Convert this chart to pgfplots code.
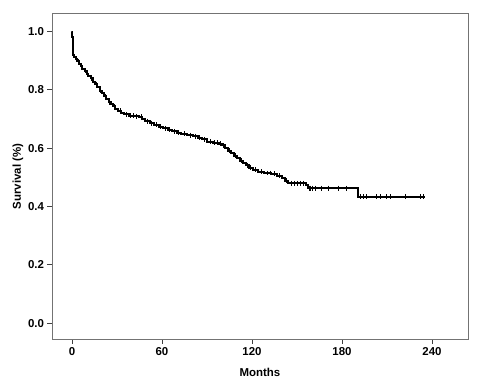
\documentclass[border=0pt]{standalone}
\usepackage{pgfplots}
\pgfplotsset{compat=1.18}
\usepackage{fontspec}
\setmainfont{Liberation Sans}
\begin{document}
\begin{tikzpicture}
\path[use as bounding box] (-52bp,-51bp) rectangle (428bp,339bp);
\begin{axis}[
  at={(0,0)}, anchor=south west,
  scale only axis, width=416bp, height=325bp,
  xmin=-13.3, xmax=264, ymin=-0.054, ymax=1.06,
  xtick={0,60,120,180,240}, ytick={0,0.2,0.4,0.6,0.8,1.0},
  axis line style={draw=black!55, line width=1pt},
  tick style={draw=black!75, line width=0.8pt},
  tick align=outside, tick pos=left,
  major tick length=4.5bp,
  /pgf/number format/assume math mode=true,
  tick label style={font=\bfseries\fontsize{11.5}{13}\selectfont},
  yticklabel style={/pgf/number format/.cd, fixed, fixed zerofill, precision=1},
  xlabel={Months},
  label style={font=\bfseries\fontsize{11.5}{13}\selectfont},
  x label style={at={(axis description cs:0.5,-0.1015)}, anchor=center},
  clip=false,
]
\addplot[const plot, black, line width=2pt] coordinates {
(0,1.0) (0.2,0.98) (0.4,0.96) (0.6,0.945) (0.8,0.93) (1.0,0.92) (1.5,0.912)
(2.5,0.905) (3.5,0.898) (5,0.89) (6,0.882) (7,0.872) (8.5,0.865) (10,0.855)
(11,0.848) (12.5,0.84) (14,0.828) (15.5,0.82) (17,0.81) (18.5,0.797) (20,0.788)
(21.5,0.778) (23,0.767) (24.5,0.758) (26,0.75) (27.5,0.743) (29,0.736) (31,0.728)
(33,0.722) (35,0.716) (38,0.712) (42,0.71) (45,0.708) (47,0.700) (49,0.693)
(52,0.686) (55,0.68) (58,0.674) (61,0.668) (64,0.663) (67,0.658) (70,0.653)
(73,0.649) (77,0.645) (81,0.641) (84,0.636) (87,0.63) (90,0.622) (94,0.618)
(98,0.616) (100,0.61) (102,0.602) (104,0.592) (106,0.583) (108,0.574) (110,0.566)
(112,0.557) (114,0.549) (116,0.541) (118,0.533) (121,0.526) (124,0.52) (128,0.515)
(133,0.512) (137,0.505) (140,0.497) (142,0.488) (144,0.48) (156,0.474) (157.5,0.463)
(190.5,0.433) (235,0.433)
};
\addplot[only marks, mark=|, mark size=2.5pt, black, mark options={line width=0.8pt}] coordinates {
(4,0.898) (9,0.865) (13,0.84) (16,0.82) (19,0.797) (22,0.778) (25,0.758) (28,0.743)
(32,0.728) (36,0.716) (39,0.712) (41,0.712) (43,0.71) (46,0.708) (50,0.693) (53,0.686)
(56,0.68) (59,0.674) (62,0.668) (65,0.663) (68,0.658) (71,0.653) (75,0.649) (79,0.645)
(82,0.641) (85,0.636) (88,0.63) (92,0.622) (95,0.618) (97,0.618) (99,0.616) (101,0.61)
(105,0.592) (109,0.574) (113,0.557) (117,0.541) (119,0.533) (122,0.526) (126,0.52)
(130,0.515) (132,0.515) (135,0.512) (138,0.505) (143,0.488)
(146,0.48) (148,0.48) (150,0.48) (152,0.48) (154,0.48)
(158,0.463) (159,0.463) (160,0.463) (162,0.463) (166,0.463) (170.7,0.463) (177.3,0.463) (183,0.463)
(192,0.433) (194,0.433) (196.4,0.433) (203,0.433) (205.3,0.433) (209.8,0.433) (212,0.433) (222,0.433) (232,0.433) (234,0.433)
};
\end{axis}
\node[rotate=90, font=\bfseries\fontsize{11.5}{13}\selectfont] at (-34bp,162.5bp) {Survival (\%)};
\end{tikzpicture}
\end{document}
